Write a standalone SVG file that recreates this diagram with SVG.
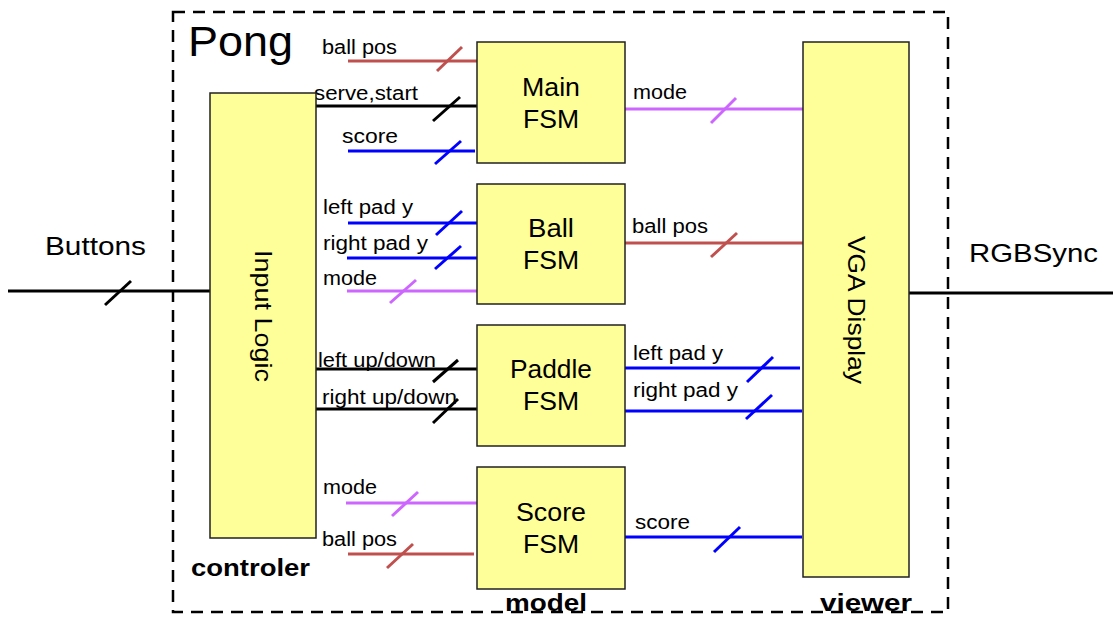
<svg xmlns="http://www.w3.org/2000/svg" width="1116" height="619" viewBox="0 0 1116 619">
<style>
.box{fill:#FFFF99;stroke:#222;stroke-width:1.5}
.t{font-family:"Liberation Sans",Arial,sans-serif;fill:#000}
.lbl{font-size:20px}
.nt{font-size:26px;text-anchor:middle}
.b{font-size:24px;font-weight:bold}
.w{stroke-width:3;fill:none}
.k{stroke:#000}.r{stroke:#C0504D}.u{stroke:#0000FF}.p{stroke:#CC66FF}
</style>
<rect x="0" y="0" width="1116" height="619" fill="#fff"/>
<rect x="173" y="12" width="775" height="600" fill="none" stroke="#000" stroke-width="2.5" stroke-dasharray="12,8"/>
<text class="t" x="188" y="56" font-size="42" textLength="105" lengthAdjust="spacingAndGlyphs">Pong</text>
<text class="t b" x="191" y="576" textLength="119" lengthAdjust="spacingAndGlyphs">controler</text>
<text class="t b" x="505" y="611" textLength="82" lengthAdjust="spacingAndGlyphs">model</text>
<text class="t b" x="820" y="611" textLength="92" lengthAdjust="spacingAndGlyphs">viewer</text>

<g id="connectors">
<line class="w k" x1="8" y1="291" x2="210" y2="291"/><line class="w k" x1="105" y1="305" x2="131" y2="281"/>
<text class="t" x="45" y="255" font-size="26" textLength="101" lengthAdjust="spacingAndGlyphs">Buttons</text>
<line class="w k" x1="909" y1="293" x2="1113" y2="293"/>
<text class="t" x="969" y="262" font-size="26" textLength="129" lengthAdjust="spacingAndGlyphs">RGBSync</text>
<!-- Main FSM inputs -->
<line class="w r" x1="348" y1="61" x2="477" y2="61"/><line class="w r" x1="437" y1="71" x2="462" y2="47"/>
<text class="t lbl" x="322" y="54" textLength="75" lengthAdjust="spacingAndGlyphs">ball  pos</text>
<line class="w k" x1="316" y1="106" x2="477" y2="106"/><line class="w k" x1="433" y1="121" x2="460" y2="97"/>
<text class="t lbl" x="314" y="100" textLength="104" lengthAdjust="spacingAndGlyphs">serve,start</text>
<line class="w u" x1="348" y1="151" x2="475" y2="151"/><line class="w u" x1="435" y1="164" x2="461" y2="141"/>
<text class="t lbl" x="342" y="143" textLength="56" lengthAdjust="spacingAndGlyphs">score</text>
<!-- Ball FSM inputs -->
<line class="w u" x1="348" y1="223" x2="477" y2="223"/><line class="w u" x1="436" y1="235" x2="462" y2="211"/>
<text class="t lbl" x="323" y="214" textLength="90" lengthAdjust="spacingAndGlyphs">left pad  y</text>
<line class="w u" x1="347" y1="258" x2="477" y2="258"/><line class="w u" x1="435" y1="269" x2="461" y2="246"/>
<text class="t lbl" x="323" y="250" textLength="105" lengthAdjust="spacingAndGlyphs">right pad  y</text>
<line class="w p" x1="347" y1="291" x2="477" y2="291"/><line class="w p" x1="390" y1="303" x2="416" y2="280"/>
<text class="t lbl" x="323" y="285" textLength="54" lengthAdjust="spacingAndGlyphs">mode</text>
<!-- Paddle FSM inputs -->
<line class="w k" x1="314" y1="369" x2="477" y2="369"/><line class="w k" x1="433" y1="382" x2="458" y2="360"/>
<text class="t lbl" x="318" y="367" textLength="118" lengthAdjust="spacingAndGlyphs">left up/down</text>
<line class="w k" x1="314" y1="409" x2="477" y2="409"/><line class="w k" x1="433" y1="423" x2="458" y2="399"/>
<text class="t lbl" x="322" y="404" textLength="135" lengthAdjust="spacingAndGlyphs">right up/down</text>
<!-- Score FSM inputs -->
<line class="w p" x1="346" y1="503" x2="477" y2="503"/><line class="w p" x1="392" y1="516" x2="418" y2="492"/>
<text class="t lbl" x="323" y="494" textLength="54" lengthAdjust="spacingAndGlyphs">mode</text>
<line class="w r" x1="348" y1="554" x2="474" y2="554"/><line class="w r" x1="387" y1="568" x2="413" y2="544"/>
<text class="t lbl" x="322" y="546" textLength="75" lengthAdjust="spacingAndGlyphs">ball  pos</text>
<!-- outputs to VGA -->
<line class="w p" x1="625" y1="109" x2="803" y2="109"/><line class="w p" x1="711" y1="123" x2="736" y2="98"/>
<text class="t lbl" x="633" y="99" textLength="54" lengthAdjust="spacingAndGlyphs">mode</text>
<line class="w r" x1="625" y1="243" x2="803" y2="243"/><line class="w r" x1="711" y1="257" x2="737" y2="233"/>
<text class="t lbl" x="632" y="233" textLength="76" lengthAdjust="spacingAndGlyphs">ball  pos</text>
<line class="w u" x1="625" y1="368" x2="800" y2="368"/><line class="w u" x1="747" y1="382" x2="773" y2="357"/>
<text class="t lbl" x="633" y="360" textLength="90" lengthAdjust="spacingAndGlyphs">left pad y</text>
<line class="w u" x1="625" y1="411" x2="802" y2="411"/><line class="w u" x1="746" y1="419" x2="772" y2="395"/>
<text class="t lbl" x="633" y="397" textLength="105" lengthAdjust="spacingAndGlyphs">right pad  y</text>
<line class="w u" x1="625" y1="537" x2="802" y2="537"/><line class="w u" x1="714" y1="552" x2="740" y2="527"/>
<text class="t lbl" x="635" y="529" textLength="55" lengthAdjust="spacingAndGlyphs">score</text>
</g>

<g id="input-logic">
<rect class="box" x="210" y="93" width="106" height="445"/>
<text class="t" x="263" y="316" font-size="24" text-anchor="middle" transform="rotate(90 263 316)" dy="8" textLength="132" lengthAdjust="spacingAndGlyphs">Input Logic</text>
</g>
<g id="main-fsm">
<rect class="box" x="477" y="42" width="148" height="121"/>
<text class="t nt" x="551" y="96" textLength="58" lengthAdjust="spacingAndGlyphs">Main</text><text class="t nt" x="551" y="128" textLength="56" lengthAdjust="spacingAndGlyphs">FSM</text>
</g>
<g id="ball-fsm">
<rect class="box" x="477" y="184" width="148" height="120"/>
<text class="t nt" x="551" y="237" textLength="46" lengthAdjust="spacingAndGlyphs">Ball</text><text class="t nt" x="551" y="269" textLength="56" lengthAdjust="spacingAndGlyphs">FSM</text>
</g>
<g id="paddle-fsm">
<rect class="box" x="477" y="325" width="148" height="121"/>
<text class="t nt" x="551" y="378" textLength="82" lengthAdjust="spacingAndGlyphs">Paddle</text><text class="t nt" x="551" y="410" textLength="56" lengthAdjust="spacingAndGlyphs">FSM</text>
</g>
<g id="score-fsm">
<rect class="box" x="477" y="467" width="148" height="122"/>
<text class="t nt" x="551" y="521" textLength="70" lengthAdjust="spacingAndGlyphs">Score</text><text class="t nt" x="551" y="553" textLength="56" lengthAdjust="spacingAndGlyphs">FSM</text>
</g>
<g id="vga-display">
<rect class="box" x="803" y="42" width="106" height="535"/>
<text class="t" x="856" y="310" font-size="24" text-anchor="middle" transform="rotate(90 856 310)" dy="8" textLength="148" lengthAdjust="spacingAndGlyphs">VGA Display</text>
</g>
</svg>
